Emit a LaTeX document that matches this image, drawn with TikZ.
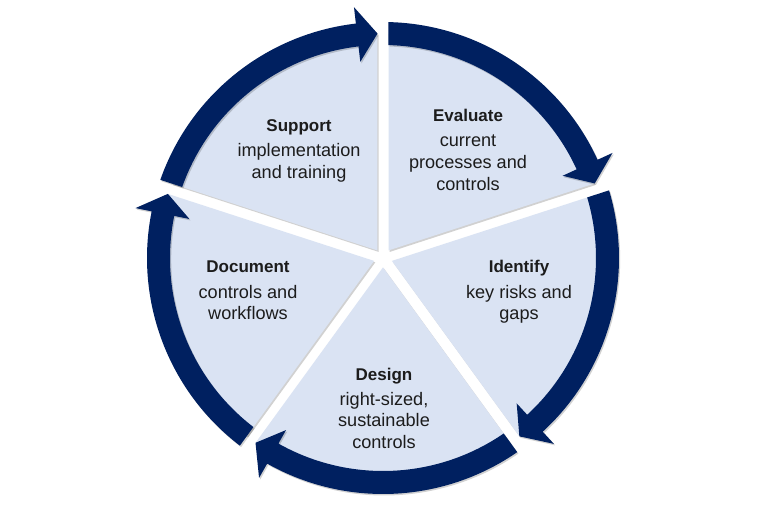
\documentclass[tikz,border=0pt]{standalone}
\usepackage{fontspec}
\setmainfont{Liberation Sans}
\definecolor{navy}{HTML}{002060}
\definecolor{paleblue}{HTML}{DAE3F3}
\definecolor{txt}{HTML}{1C1C1C}
\newcommand\steptitle[1]{{\fontsize{12.75}{16.2}\selectfont\bfseries #1}}
\begin{document}
\begin{tikzpicture}[x=0.75pt,y=0.75pt,
  sector/.style={fill=paleblue},
  ringarrow/.style={fill=navy},
  softshade/.style={fill=black,opacity=0.18},
  lbl/.style={align=center,text=txt,inner sep=0pt,anchor=base,font=\fontsize{13.6}{16.2}\selectfont}]
\useasboundingbox[fill=white] (-383,-254) rectangle (385,258);
% shadows
\foreach \i in {0,...,4}{
  \pgfmathsetmacro\aA{90-72*\i}
  \pgfmathsetmacro\aB{\aA-72}
  \pgfmathsetmacro\bis{\aA-36}
  \pgfmathsetmacro\sA{\aB+1.41}
  \pgfmathsetmacro\eA{\aA-1.41}
  \fill[softshade,shift={(1.2,-1.5)}] (\bis:9.36) -- (\sA:224) arc[start angle=\sA,end angle=\eA,radius=224] -- cycle;
}
% sectors
\foreach \i in {0,...,4}{
  \pgfmathsetmacro\aA{90-72*\i}
  \pgfmathsetmacro\aB{\aA-72}
  \pgfmathsetmacro\bis{\aA-36}
  \pgfmathsetmacro\sA{\aB+1.41}
  \pgfmathsetmacro\eA{\aA-1.41}
  \fill[sector] (\bis:9.36) -- (\sA:224) arc[start angle=\sA,end angle=\eA,radius=224] -- cycle;
}
% ring arrows
\foreach \i in {0,...,4}{
  \pgfmathsetmacro\aA{90-72*\i}
  \pgfmathsetmacro\aB{\aA-72}
  \pgfmathsetmacro\tO{\aA-1.335}
  \pgfmathsetmacro\tI{\aA-1.48}
  \pgfmathsetmacro\hb{\aB+6.6}
  \pgfmathsetmacro\tp{\aB+1.4}
  \fill[softshade,shift={(1.2,-1.5)}] (\tO:236) arc[start angle=\tO,end angle=\hb,radius=236] -- (\hb:252.5) -- (\tp:224.5) -- (\hb:197.5) -- (\hb:213) arc[start angle=\hb,end angle=\tI,radius=213] -- cycle;
  \fill[ringarrow] (\tO:236) arc[start angle=\tO,end angle=\hb,radius=236] -- (\hb:252.5) -- (\tp:224.5) -- (\hb:197.5) -- (\hb:213) arc[start angle=\hb,end angle=\tI,radius=213] -- cycle;
}
% labels (anchored at the baseline of the last line)
\node[lbl] (support) at (-84,79.5) {\steptitle{Support}\\[2.6pt]implementation\\and training};
\node[lbl] (evaluate) at (85,68) {\steptitle{Evaluate}\\[2.6pt]current\\processes and\\controls};
\node[lbl] (identify) at (136,-61.6) {\steptitle{Identify}\\[2.6pt]key risks and\\gaps};
\node[lbl] (design) at (1,-190.3) {\steptitle{Design}\\[2.6pt]right-sized,\\sustainable\\controls};
\node[lbl] (document) at (-135,-61.6) {\steptitle{Document}\\[2.6pt]controls and\\workflows};
\end{tikzpicture}
\end{document}
